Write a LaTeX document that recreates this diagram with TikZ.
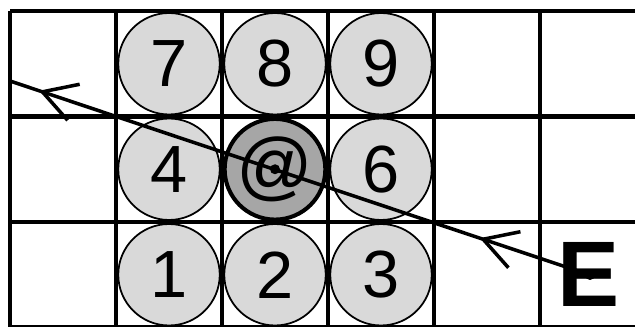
\documentclass[tikz,border=0pt]{standalone}
\usepackage{fontspec}
\setmainfont{Liberation Sans}
\usepackage{xcolor}
\definecolor{ballgray}{RGB}{217,217,217}
\definecolor{cuegray}{RGB}{166,166,166}
\usetikzlibrary{arrows.meta, decorations.markings}

\begin{document}
\begin{tikzpicture}[
        x=0.02cm, y=-0.02cm,
        grid/.style={line width=2.3pt, black},
        ball/.style={circle, draw=black, line width=1pt, fill=ballgray, minimum size=2.03cm, inner sep=0pt, font=\fontsize{38}{40}\selectfont},
        cue/.style={ball, fill=cuegray, line width=2.3pt, minimum size=1.96cm, font=\fontsize{43}{45}\selectfont},
        shot/.style={line width=2pt, postaction={decorate}, decoration={markings,
            mark=at position 0.19 with {\arrow{Straight Barb[length=0.66cm, width=0.76cm]}},
            mark=at position 0.95 with {\arrow{Straight Barb[length=0.66cm, width=0.76cm]}}}}
    ]
        \useasboundingbox (0,0) rectangle (635,327);

        % table grid
        \draw[grid] (10,11) -- (635,11) (10,116.5) -- (635,116.5) (10,222) -- (635,222) (10,327.5) -- (635,327.5);
        \draw[grid] (10,11) -- (10,327) (116,11) -- (116,327) (222,11) -- (222,327) (328,11) -- (328,327) (434,11) -- (434,327) (540,11) -- (540,327);

        \node[ball] (b7) at (169,63.75) {7};
        \node[ball] (b8) at (275,63.75) {8};
        \node[ball] (b9) at (381,63.75) {9};
        \node[ball] (b4) at (169,169.25) {4};
        \node[cue] (bc) at (275,169.25) {@};
        \node[ball] (b6) at (381,169.25) {6};
        \node[ball] (b1) at (169,274.75) {1};
        \node[ball] (b2) at (275,274.75) {2};
        \node[ball] (b3) at (381,274.75) {3};

        \node[inner sep=0pt, font=\fontsize{53}{55}\selectfont\bfseries] (exit) at (589,274) {E};
        \coordinate (aim) at (590,275);
        \coordinate (rail) at (10,81);

        \draw[shot] (aim) -- (rail);
        \fill (aim) circle (0.1cm);
        \fill (bc.center) circle (0.1cm);
    \end{tikzpicture}
\end{document}
